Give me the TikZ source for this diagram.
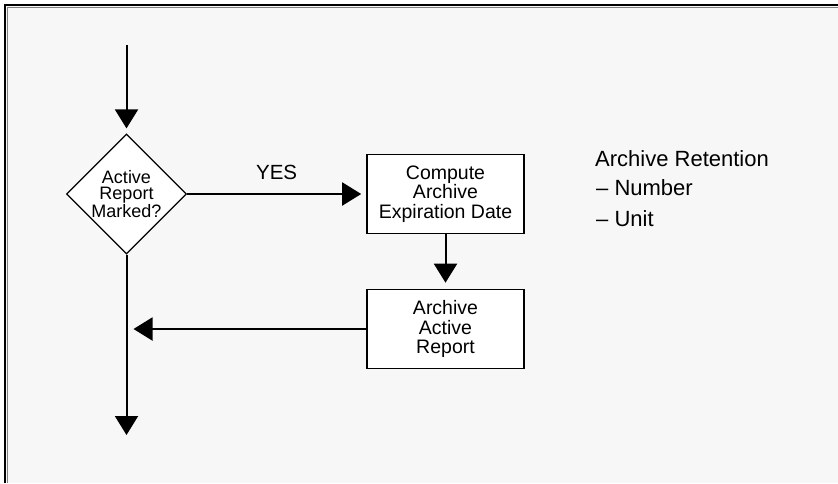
\documentclass[tikz,border=0pt]{standalone}
\usepackage{fontspec}
\setmainfont{Liberation Sans}
\usetikzlibrary{shapes.geometric,arrows.meta}
\definecolor{bg}{HTML}{F7F7F7}
\definecolor{edgegray}{HTML}{808080}
\begin{document}
\begin{tikzpicture}[x=1pt,y=-1pt,
  flow/.style={line width=2pt,-{Triangle[length=19pt 0,width=23pt 0]}},
  boxnode/.style={draw,line width=1.6pt,fill=white,minimum width=157pt,minimum height=79pt,inner sep=0pt,align=center,font=\fontsize{19.5}{19.5}\selectfont},
  decision/.style={draw,diamond,line width=1.2pt,fill=white,minimum width=120pt,minimum height=120pt,inner sep=0pt,align=center,font=\fontsize{18}{16.5}\selectfont},
  lbl/.style={font=\fontsize{20.5}{20.5}\selectfont,inner sep=0pt},
  side/.style={font=\fontsize{22}{22}\selectfont,inner sep=0pt,anchor=base west}]
\useasboundingbox (0,0) rectangle (838,483);
\fill[white] (0,0) rectangle (838,483);
\fill[bg] (6,6) rectangle (838,483);
\draw[line width=2pt] (5,483) -- (5,5) -- (838,5);
\draw[edgegray,line width=1pt] (7.5,483) -- (7.5,7.5) -- (838,7.5);
% nodes
\coordinate (start) at (126.5,45);
\node[decision] (dec) at (126.5,194) {Active\\Report\\Marked?};
\node[boxnode] (comp) at (445.5,194) {Compute\\Archive\\Expiration Date};
\node[boxnode] (arch) at (445.5,329) {Archive\\Active\\Report};
\coordinate (join) at (126.5,329);
\coordinate (endp) at (126.5,435);
% connectors
\draw[flow,shorten >=5pt] (start) -- (dec.north);
\draw[flow,shorten >=5pt] (dec.east) -- (comp.west) node[lbl,midway,above=13pt] {YES};
\draw[flow,shorten >=6pt] (comp.south) -- (arch.north);
\draw[flow,shorten >=7pt] (arch.west) -- (join);
\draw[flow] (dec.south) -- (endp);
% side text
\node[side] (ret) at (595,166.5) {Archive Retention};
\node[side] (num) at (596,195.5) {– Number};
\node[side] (unit) at (596,226.5) {– Unit};
\end{tikzpicture}
\end{document}
